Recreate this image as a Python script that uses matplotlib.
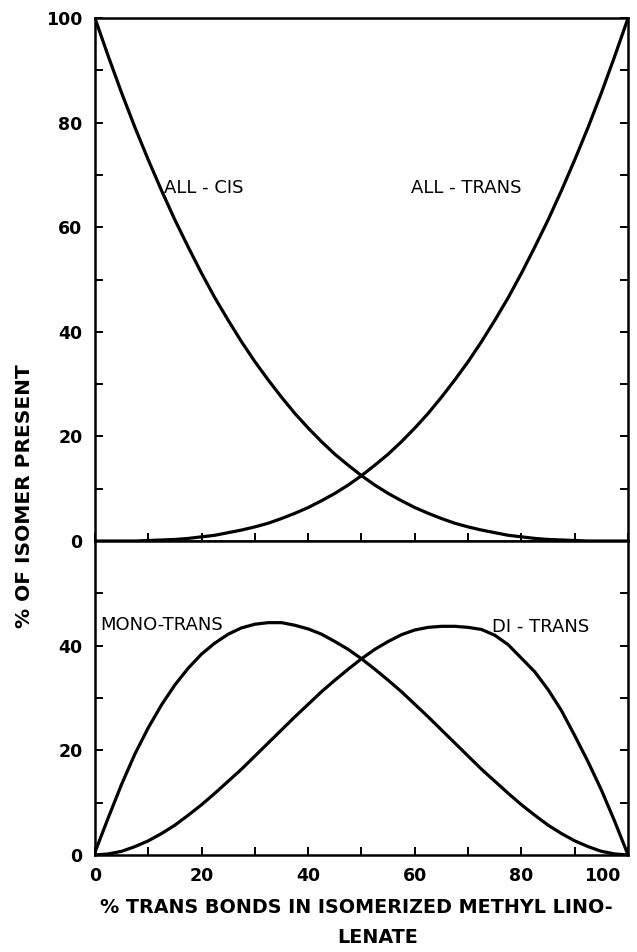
import matplotlib
matplotlib.use("Agg")
import matplotlib.pyplot as plt
import matplotlib.transforms as mtransforms
from matplotlib.ticker import MultipleLocator, FixedLocator

# % trans bonds (x) and isomer content
trans_pct = [0, 2.5, 5, 7.5, 10, 12.5, 15, 17.5, 20, 22.5, 25, 27.5, 30, 32.5,
             35, 37.5, 40, 42.5, 45, 47.5, 50, 52.5, 55, 57.5, 60, 62.5, 65,
             67.5, 70, 72.5, 75, 77.5, 80, 82.5, 85, 87.5, 90, 92.5, 95, 97.5, 100]
all_cis = [100, 92.7, 85.7, 79.1, 72.9, 67.0, 61.4, 56.2, 51.2, 46.5, 42.2,
           38.1, 34.3, 30.8, 27.5, 24.4, 21.6, 19.0, 16.6, 14.5, 12.5, 10.7,
           9.1, 7.7, 6.4, 5.3, 4.3, 3.4, 2.7, 2.1, 1.6, 1.1, 0.8, 0.5, 0.3,
           0.2, 0.1, 0, 0, 0, 0]
all_trans = [0, 0, 0, 0, 0.1, 0.2, 0.3, 0.5, 0.8, 1.1, 1.6, 2.1, 2.7, 3.4,
             4.3, 5.3, 6.4, 7.7, 9.1, 10.7, 12.5, 14.5, 16.6, 19.0, 21.6, 24.4,
             27.5, 30.8, 34.3, 38.1, 42.2, 46.5, 51.2, 56.2, 61.4, 67.0, 72.9,
             79.1, 85.7, 92.7, 100]
mono_trans = [0.5, 7.1, 13.5, 19.3, 24.3, 28.7, 32.5, 35.7, 38.4, 40.5, 42.2,
              43.4, 44.1, 44.4, 44.4, 43.9, 43.2, 42.2, 40.8, 39.3, 37.5, 35.5,
              33.4, 31.2, 28.8, 26.4, 23.9, 21.4, 18.9, 16.4, 14.1, 11.8, 9.6,
              7.6, 5.7, 4.1, 2.7, 1.6, 0.7, 0.2, 0]
di_trans = [0, 0.2, 0.7, 1.6, 2.7, 4.1, 5.7, 7.6, 9.6, 11.8, 14.1, 16.4, 18.9,
            21.4, 23.9, 26.4, 28.8, 31.2, 33.4, 35.5, 37.5, 39.3, 40.8, 42.1,
            43.0, 43.5, 43.7, 43.7, 43.5, 43.1, 42.0, 40.2, 37.6, 35.0, 31.6,
            27.6, 22.8, 17.8, 12.4, 6.4, 0]

x_ticks = [0, 20, 40, 60, 80, 100]
top_yticks = [0, 20, 40, 60, 80, 100]
bot_yticks = [0, 20, 40]

LW = 2.3
SPINE = 1.8
TICKFS = 12.5
LABFS = 13

fig = plt.figure(figsize=(6.37, 9.52), dpi=100)
ax1 = fig.add_axes([0.149, 0.4317, 0.837, 0.5494])
ax2 = fig.add_axes([0.149, 0.1019, 0.837, 0.3298])

# -------------------------
# top panel: all-cis / all-trans
# -------------------------
ax1.plot(trans_pct, all_cis, color="black", lw=LW, solid_capstyle="round")
ax1.plot(trans_pct, all_trans, color="black", lw=LW, solid_capstyle="round")
ax1.set_xlim(0, 100)
ax1.set_ylim(0, 100)
ax1.yaxis.set_major_locator(FixedLocator(top_yticks))
ax1.yaxis.set_minor_locator(MultipleLocator(10))
ax1.xaxis.set_major_locator(MultipleLocator(10))
ax1.tick_params(axis="both", which="both", direction="in", length=6, width=1.4,
                left=True, right=True, top=False, bottom=True,
                labelbottom=False, labelsize=TICKFS, pad=9)
ax1.text(13.0, 67.5, "ALL - CIS", fontsize=LABFS, va="center")
ax1.text(59.3, 67.5, "ALL - TRANS", fontsize=LABFS, va="center")

# -------------------------
# bottom panel: mono-trans / di-trans
# -------------------------
ax2.plot(trans_pct, mono_trans, color="black", lw=LW, solid_capstyle="round")
ax2.plot(trans_pct, di_trans, color="black", lw=LW, solid_capstyle="round")
ax2.set_xlim(0, 100)
ax2.set_ylim(0, 60)
ax2.yaxis.set_major_locator(FixedLocator(bot_yticks))
ax2.yaxis.set_minor_locator(FixedLocator([10, 30, 50]))
ax2.xaxis.set_major_locator(FixedLocator(x_ticks))
ax2.xaxis.set_minor_locator(MultipleLocator(10))
ax2.tick_params(axis="both", which="both", direction="in", length=6, width=1.4,
                left=True, right=True, top=False, bottom=True,
                labelsize=TICKFS, pad=9)
ax2.text(1.0, 44.0, "MONO-TRANS", fontsize=LABFS, va="center")
ax2.text(74.5, 43.6, "DI - TRANS", fontsize=LABFS, va="center")

for ax in (ax1, ax2):
    for sp in ax.spines.values():
        sp.set_linewidth(SPINE)
    for lab in ax.get_xticklabels() + ax.get_yticklabels():
        lab.set_fontweight("bold")

# last x label sits inside the frame edge, as in the original
fig.canvas.draw()
last = ax2.get_xticklabels()[-1]
last.set_horizontalalignment("right")
last.set_transform(last.get_transform() + mtransforms.ScaledTranslation(-0.08, 0, fig.dpi_scale_trans))

fig.text(0.039, 0.479, "% OF ISOMER PRESENT", rotation=90, ha="center",
         va="center", fontsize=14.5, fontweight="bold")
fig.text(0.559, 0.047, "% TRANS BONDS IN ISOMERIZED METHYL LINO-",
         ha="center", va="center", fontsize=13.8, fontweight="bold")
fig.text(0.593, 0.015, "LENATE", ha="center", va="center",
         fontsize=13.8, fontweight="bold")

fig.savefig("out.png", dpi=100)
